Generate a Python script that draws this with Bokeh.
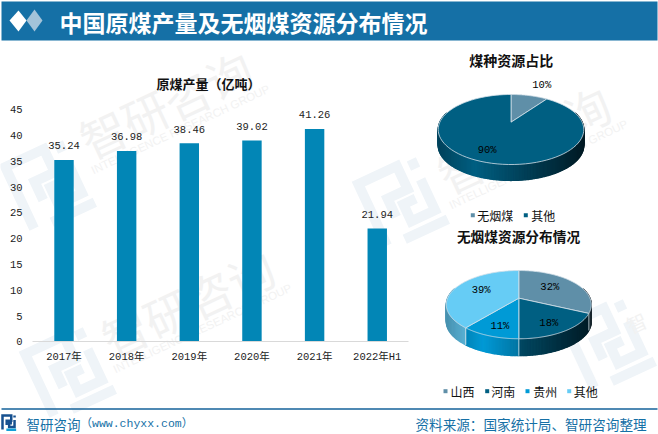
import math
import numpy as np
from bokeh.plotting import figure
from bokeh.models import Range1d, FixedTicker
from bokeh.core.properties import value
from bokeh.embed import file_html
from bokeh.resources import INLINE

# ---- data ----
years = ["2017年", "2018年", "2019年", "2020年", "2021年", "2022年H1"]
output = [35.24, 36.98, 38.46, 39.02, 41.26, 21.94]
y_ticks = [0, 5, 10, 15, 20, 25, 30, 35, 40, 45]

coal_names = ["无烟煤", "其他"]
coal_share = [10, 90]
region_names = ["山西", "河南", "贵州", "其他"]
region_share = [32, 18, 11, 39]

# ---- styles / layout ----
W, H = 658, 434
BLUE = "#1570A6"
BAR = "#0286B6"
C_SLICE = ["#5F8FA8", "#005F82", "#009AD6", "#66CCF5"]
WM_TXT = "#F2F2F2"
WM_LOGO = "#EFF4F8"
CJK = "Noto Sans CJK SC"
MONO = "Liberation Mono, Noto Sans CJK SC"

X0, DX = 63.5, 62.65          # pixel of first category, pixels per category
Y0, DY = 341.3, 5.16          # pixel of value 0, pixels per unit

p = figure(width=W, height=H, output_backend="svg", toolbar_location=None,
           x_range=Range1d((0 - X0) / DX, (W - X0) / DX),
           y_range=Range1d((Y0 - H) / DY, Y0 / DY),
           min_border=0, min_border_left=0, min_border_right=0,
           min_border_top=0, min_border_bottom=0)
p.outline_line_color = None
p.grid.visible = False
p.background_fill_color = "white"
p.border_fill_color = "white"
p.extra_x_ranges["px"] = Range1d(0, W)
p.extra_y_ranges["px"] = Range1d(H, 0)
PX = dict(x_range_name="px", y_range_name="px")


def txt(x, y, s, size, color="#111111", font=CJK, bold=False, align="center", angle=0.0):
    p.text(x=[x], y=[y], text=[s], text_font=value(font), text_font_size=f"{size}px",
           text_color=color, text_font_style="bold" if bold else "normal",
           text_align=align, text_baseline="middle", angle=angle, **PX)


# ---- logo, used for the watermark and the footer ----
LOGO_PATHS = [
    [(-1.0, 1.0), (-1.0, -1.0), (0.25, -1.0), (0.25, -0.25), (-0.4, -0.25), (-0.4, 0.35)],
    [(0.72, -1.0), (0.72, -0.7)],
    [(0.72, -0.35), (0.72, 0.65), (-0.05, 0.65), (-0.05, 0.1), (0.35, 0.1)],
    [(-0.45, 1.05), (0.95, 1.05)],
]


def logo(cx, cy, s, deg, width, colors):
    a = math.radians(deg)
    for path, col in zip(LOGO_PATHS, colors):
        xs = [cx + s * (lx * math.cos(a) + ly * math.sin(a)) for lx, ly in path]
        ys = [cy + s * (-lx * math.sin(a) + ly * math.cos(a)) for lx, ly in path]
        p.line(xs, ys, line_color=col, line_width=width, line_join="miter", line_cap="butt", **PX)


def watermark(tx, ty, lx, ly):
    a = math.radians(25)
    logo(lx, ly, 34, 25, 10, [WM_LOGO] * 4)
    txt(tx, ty, "智研咨询", 46, WM_TXT, angle=a)
    txt(tx + 15, ty + 26, "INTELLIGENCE RESEARCH GROUP", 11.5, WM_TXT,
        font="Liberation Sans", angle=a)


watermark(165, 103, 50, 183)
watermark(187, 302, 70, 370)
watermark(523, 138, 403, 200)
logo(610, 342, 34, 25, 10, [WM_LOGO] * 4)
txt(636, 322, "智", 20, WM_TXT, angle=math.radians(25))

# ---- header and footer ----
p.quad(left=1, right=657, top=1, bottom=40, fill_color=BLUE, line_color=None, **PX)
p.patch([26, 34, 42, 34], [20, 9, 20, 31], fill_color="#A3C3D9", line_color=None, **PX)
p.patch([9, 18, 26, 18], [20, 10, 20, 31], fill_color="white", line_color=None, **PX)
txt(59, 21, "中国原煤产量及无烟煤资源分布情况", 23, "white", bold=True, align="left")
p.line([1, 657], [408.5, 408.5], line_color="#14629A", line_width=1.5, **PX)
logo(9, 422, 7, 0, 2.5, ["#16508F", "#16508F", "#16508F", "#12A0D8"])
txt(26, 423, "智研咨询", 13.5, BLUE, align="left")
txt(80, 423, "（www.chyxx.com）", 11.5, BLUE, font=MONO, align="left")
txt(415, 423, "资料来源：国家统计局、智研咨询整理", 13.6, BLUE, align="left")

# ---- bar chart ----
xs = list(range(len(output)))
p.vbar(x=xs, top=output, bottom=0, width=0.31, fill_color=BAR, line_color=None)
p.text(x=xs, y=output, text=[f"{v:.2f}" for v in output], text_font=value(MONO),
       text_font_size="10.5px", text_color="#222222", text_align="center",
       text_baseline="middle", y_offset=-14)
txt(208, 82.5, "原煤产量（亿吨）", 13, bold=True)

xa = p.xaxis[0]
xa.ticker = FixedTicker(ticks=xs)
xa.major_label_overrides = {i: s for i, s in enumerate(years)}
xa.fixed_location = 0
xa.bounds = (-0.5, 5.5)
xa.axis_line_color = "#D9D9D9"
xa.axis_line_width = 1
xa.major_tick_line_color = None
xa.minor_tick_line_color = None
xa.major_tick_in = 0
xa.major_tick_out = 0
xa.major_label_standoff = 9
xa.major_label_text_font = MONO
xa.major_label_text_font_size = "10.5px"
xa.major_label_text_color = "#222222"

ya = p.yaxis[0]
ya.ticker = FixedTicker(ticks=y_ticks)
ya.fixed_location = (26 - X0) / DX
ya.axis_line_color = None
ya.major_tick_line_color = None
ya.minor_tick_line_color = None
ya.major_tick_in = 0
ya.major_tick_out = 0
ya.major_label_standoff = 4
ya.major_label_text_font = MONO
ya.major_label_text_font_size = "10.5px"
ya.major_label_text_color = "#222222"


# ---- perspective pies ----
def shaded(col, f):
    r, g, b = int(col[1:3], 16), int(col[3:5], 16), int(col[5:7], 16)
    return "#%02x%02x%02x" % (int(r * f), int(g * f), int(b * f))


def pie(shares, colors, cx, cy, R, H_, k, depth, radii, offs):
    def pt(th, f=1.0):
        X, Y = f * np.sin(th), f * np.cos(th)
        s = 1 / (1 + k * Y)
        return cx + R * X * s, cy - H_ * Y * s

    edges = np.radians(np.cumsum([0] + list(shares)) * 3.6)
    rx = R / math.sqrt(1 - k * k)
    # wall: thin strips painted left to right so each covers the seam of the last
    strips = []
    for i, col in enumerate(colors):
        a0, a1 = edges[i], edges[i + 1]
        n = max(2, int(math.degrees(a1 - a0) / 1.0))
        ts = np.linspace(a0, a1, n + 1)
        for t0, t1 in zip(ts[:-1], ts[1:]):
            if math.cos((t0 + t1) / 2) > 0.3:
                continue
            x0, y0 = pt(t0)
            x1, y1 = pt(t1)
            u = ((x0 + x1) / 2 - cx) / rx
            f = 0.72 + 0.56 * (u + 1) if u < -0.5 else 1.0 - 0.72 * (u + 0.5) / 1.5
            c = shaded(col, min(1.0, max(0.2, f)))
            strips.append((-(x0 + x1), [x0, x1, x1, x0], [y0, y1, y1 + depth, y0 + depth], c))
    strips.sort(key=lambda s: s[0])
    for _, qx, qy, c in strips:
        p.patch(qx, qy, fill_color=c, line_color=c, line_width=1.2, **PX)
    for e in edges[:-1]:
        if math.cos(e) < 0:
            x0, y0 = pt(e)
            p.line([x0, x0], [y0, y0 + depth], line_color="#D8E4EA", line_width=0.8, **PX)
    # top face
    for i, col in enumerate(colors):
        ts = np.linspace(edges[i], edges[i + 1], 90)
        rim = [pt(t) for t in ts]
        p.patch([cx] + [q[0] for q in rim], [cy] + [q[1] for q in rim],
                fill_color=col, line_color="#D3E0E8", line_width=0.8, **PX)
    # labels
    for i, v in enumerate(shares):
        lx, ly = pt((edges[i] + edges[i + 1]) / 2, radii[i])
        txt(lx + offs[i][0], ly + offs[i][1], f"{v}%", 10.5, "#000000", font=MONO)


pie(coal_share, [C_SLICE[0], C_SLICE[1]], 510.5, 121.7, 71.2, 33.5, 0.2086, 16,
    [1.3, 0.8], [(8, -4), (-3, -2)])
pie(region_share, C_SLICE, 518.3, 297.7, 71.2, 32.9, 0.189, 17,
    [0.6, 0.78, 0.78, 0.6], [(-3, -1), (-4, 0), (3, 0), (1, -2)])

txt(510.7, 59, "煤种资源占比", 14, bold=True)
txt(518, 235.7, "无烟煤资源分布情况", 13.7, bold=True)


def legend_row(names, colors, sq_x, text_x, y):
    p.scatter(sq_x, [y] * len(names), marker="square", size=4, fill_color=colors, line_color=None, **PX)
    for n, x in zip(names, text_x):
        txt(x, y, n, 12, "#111111", align="left")


legend_row(coal_names, C_SLICE[:2], [472.3, 525.3], [476.7, 530.7], 214.7)
legend_row(region_names, C_SLICE, [445, 486.7, 527, 568.7], [450, 490.7, 532.7, 573.3], 390.7)

open("out.html", "w").write(file_html(p, INLINE))
